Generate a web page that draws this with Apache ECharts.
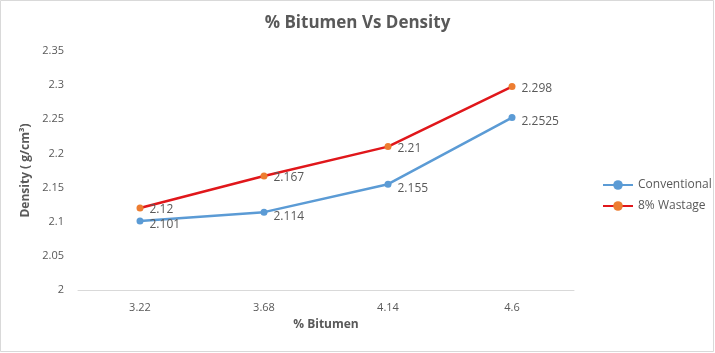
<!DOCTYPE html>
<html>
<head>
<meta charset="utf-8">
<script src="https://cdn.jsdelivr.net/npm/echarts@6/dist/echarts.min.js"></script>
<style>
html,body{margin:0;padding:0;background:#fff;}
#chart{width:715px;height:353px;}
</style>
</head>
<body>
<div id="chart"></div>
<script>
// data
var bitumen = ['3.22', '3.68', '4.14', '4.6'];
var conventional = [2.101, 2.114, 2.155, 2.2525];
var wastage = [2.12, 2.167, 2.21, 2.298];
var seriesNames = ['Conventional', '8% Wastage'];

var txt = '#595959';
var font = 'Open Sans';

var chart = echarts.init(document.getElementById('chart'));
var option = {
	backgroundColor: '#fff',
	textStyle: { fontFamily: font },
	title: {
		text: '% Bitumen Vs Density',
		left: 'center',
		top: 10,
		textStyle: { fontSize: 17, fontWeight: 'bold', color: txt, fontFamily: font }
	},
	legend: {
		orient: 'vertical',
		left: 597,
		top: 174,
		itemGap: 9,
		itemWidth: 30,
		itemHeight: 12,
		textStyle: { fontSize: 12, color: txt },
		data: seriesNames
	},
	graphic: [{
		type: 'rect',
		shape: { x: 0.5, y: 0.5, width: 713, height: 351 },
		style: { fill: null, stroke: '#d9d9d9', lineWidth: 1 },
		silent: true
	}],
	grid: { left: 78, right: 141, top: 51, bottom: 63 },
	xAxis: {
		type: 'category',
		data: bitumen,
		boundaryGap: true,
		name: '% Bitumen',
		nameLocation: 'middle',
		nameGap: 29,
		nameTextStyle: { fontSize: 12, fontWeight: 'bold', color: txt },
		axisLine: { lineStyle: { color: '#d9d9d9' } },
		axisTick: { show: false },
		axisLabel: { color: txt, fontSize: 11, margin: 12 }
	},
	yAxis: {
		type: 'value',
		min: 2,
		max: 2.35,
		interval: 0.05,
		name: 'Density ( g/cm³)',
		nameLocation: 'middle',
		nameGap: 42,
		nameTextStyle: { fontSize: 12, fontWeight: 'bold', color: txt },
		axisLine: { show: false },
		axisTick: { show: false },
		splitLine: { show: false },
		axisLabel: {
			color: txt, fontSize: 11, margin: 14,
			formatter: function (v) { return String(+v.toFixed(2)); }
		}
	},
	series: [
		{
			name: seriesNames[0],
			type: 'line',
			data: conventional,
			symbol: 'circle',
			symbolSize: 7,
			itemStyle: { color: '#5B9BD5' },
			lineStyle: { color: '#5B9BD5', width: 2.5 },
			label: {
				show: true, position: 'right', offset: [1, 4],
				color: txt, fontSize: 12,
				formatter: function (p) { return p.value; }
			},
			z: 2
		},
		{
			name: seriesNames[1],
			type: 'line',
			data: wastage,
			symbol: 'circle',
			symbolSize: 7,
			itemStyle: { color: '#ED7D31' },
			lineStyle: { color: '#E0171B', width: 2.5 },
			label: {
				show: true, position: 'right', offset: [1, 2],
				color: txt, fontSize: 12,
				formatter: function (p) { return p.value; }
			},
			z: 3
		}
	]
};
chart.setOption(option);
window.addEventListener('resize', chart.resize);
</script>
</body>
</html>
